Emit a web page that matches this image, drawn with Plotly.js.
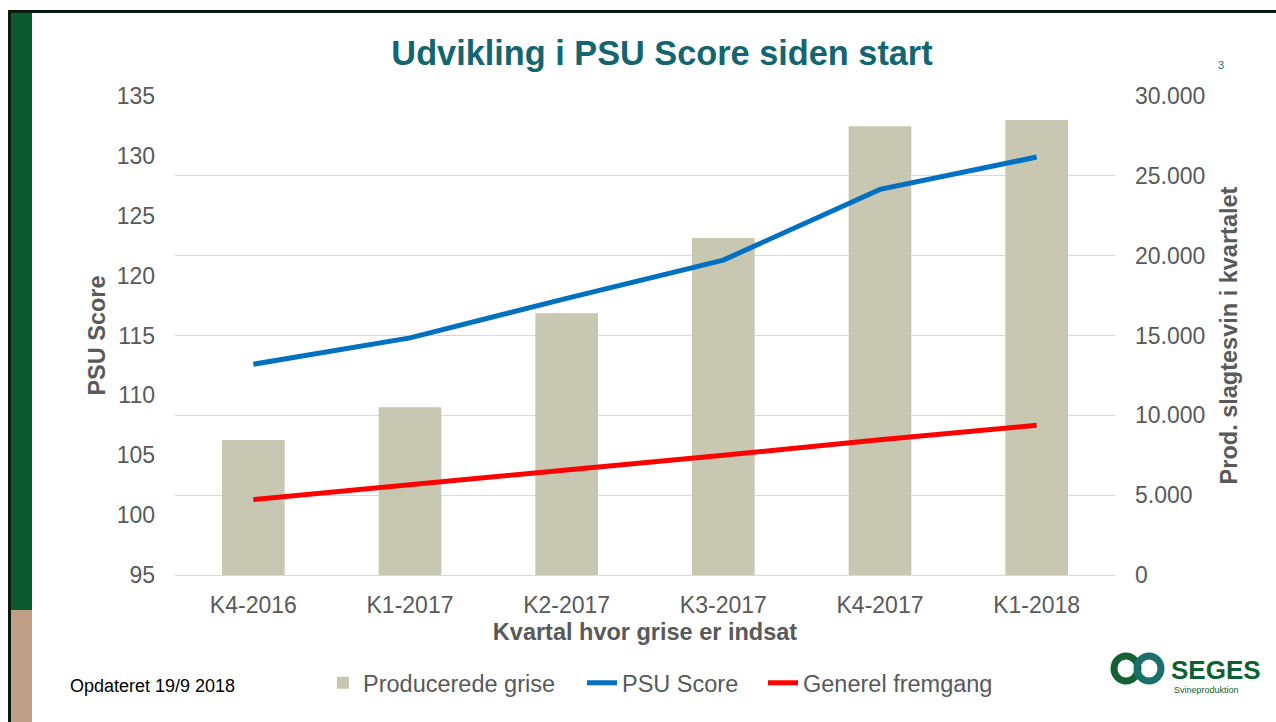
<!DOCTYPE html>
<html>
<head>
<meta charset="utf-8">
<script src="https://cdn.plot.ly/plotly-3.0.1.min.js"></script>
<style>
  html, body { margin: 0; padding: 0; background: #ffffff; }
  #chart { width: 1276px; height: 722px; }
</style>
</head>
<body>
<div id="chart"></div>
<script>
// ---- data ----
const categories = ["K4-2016", "K1-2017", "K2-2017", "K3-2017", "K4-2017", "K1-2018"];
const producedPigs = [8450, 10500, 16400, 21100, 28100, 28500];
const psuScore = [112.6, 114.8, 118.1, 121.3, 127.2, 129.9];
const generalProgress = [101.3, 102.5, 103.8, 105.0, 106.3, 107.5];
const leftTicks = [95, 100, 105, 110, 115, 120, 125, 130, 135];
const rightTicks = [0, 5000, 10000, 15000, 20000, 25000, 30000];
const rightTickText = ["0", "5.000", "10.000", "15.000", "20.000", "25.000", "30.000"];

// ---- layout helpers (pixel -> paper) ----
const W = 1276, H = 722;
const M = { l: 175, r: 161, t: 96, b: 147 };
const PW = W - M.l - M.r, PH = H - M.t - M.b;
const px = x => (x - M.l) / PW;
const py = y => (H - M.b - y) / PH;

const FONT = "Liberation Sans, Arial, sans-serif";
const GREY = "#595959";

// bars on the primary (right-side) axis so the lines (overlay axis) draw on top
const traces = [
  {
    type: "bar", name: "Producerede grise", x: categories, y: producedPigs,
    yaxis: "y", marker: { color: "#c8c7b1" }, width: 0.4, legend: "legend"
  },
  {
    type: "scatter", mode: "lines", name: "PSU Score", x: categories, y: psuScore,
    yaxis: "y2", line: { color: "#0070c0", width: 5 }, legend: "legend2"
  },
  {
    type: "scatter", mode: "lines", name: "Generel fremgang", x: categories, y: generalProgress,
    yaxis: "y2", line: { color: "#ff0000", width: 5 }, legend: "legend3"
  }
];

const shapes = [
  // slide frame
  { type: "rect", xref: "paper", yref: "paper", x0: px(11), x1: px(32), y0: py(13), y1: py(610), fillcolor: "#0b5a2e", line: { width: 0 }, layer: "above" },
  { type: "rect", xref: "paper", yref: "paper", x0: px(11), x1: px(32), y0: py(610), y1: py(722), fillcolor: "#bf9e84", line: { width: 0 }, layer: "above" },
  { type: "rect", xref: "paper", yref: "paper", x0: px(8), x1: px(11), y0: py(10), y1: py(722), fillcolor: "#0a1a10", line: { width: 0 }, layer: "above" },
  { type: "rect", xref: "paper", yref: "paper", x0: px(8), x1: px(1276), y0: py(10), y1: py(13), fillcolor: "#0a1a10", line: { width: 0 }, layer: "above" },
  // logo rings
  { type: "circle", xref: "paper", yref: "paper", x0: px(1114), x1: px(1138), y0: py(656), y1: py(681), fillcolor: "rgba(0,0,0,0)", line: { color: "#146234", width: 7 } },
  { type: "circle", xref: "paper", yref: "paper", x0: px(1137), x1: px(1161), y0: py(656), y1: py(681), fillcolor: "rgba(0,0,0,0)", line: { color: "#1a6f6c", width: 7 } }
];

const annotations = [
  { text: "Opdateret 19/9 2018", xref: "paper", yref: "paper", x: px(68), y: py(686), xanchor: "left", yanchor: "middle", showarrow: false, font: { family: FONT, size: 18, color: "#000000" } },
  { text: "3", xref: "paper", yref: "paper", x: px(1221), y: py(65), xanchor: "center", yanchor: "middle", showarrow: false, font: { family: FONT, size: 11, color: "#1a6f7a" } },
  { text: "<b>SEGES</b>", xref: "paper", yref: "paper", x: px(1169), y: py(670), xanchor: "left", yanchor: "middle", showarrow: false, font: { family: FONT, size: 26, color: "#0d6130" } },
  { text: "Svineproduktion", xref: "paper", yref: "paper", x: px(1172), y: py(690), xanchor: "left", yanchor: "middle", showarrow: false, font: { family: FONT, size: 9, color: "#0d6130" } }
];

const legendBase = {
  orientation: "h", xanchor: "left", y: py(683), yanchor: "middle",
  font: { family: FONT, size: 23.5, color: GREY }, bgcolor: "rgba(0,0,0,0)"
};

const layout = {
  width: W, height: H,
  margin: M,
  paper_bgcolor: "#ffffff", plot_bgcolor: "#ffffff",
  separators: ",.",
  font: { family: FONT, color: GREY },
  title: {
    text: "<b>Udvikling i PSU Score siden start</b>",
    font: { family: FONT, size: 34.3, color: "#13656f" },
    x: 662 / W, xanchor: "center", y: 1 - 53 / H, yanchor: "middle"
  },
  showlegend: true,
  legend: Object.assign({}, legendBase, { x: px(323) }),
  legend2: Object.assign({}, legendBase, { x: px(582) }),
  legend3: Object.assign({}, legendBase, { x: px(763) }),
  bargap: 0.6,
  xaxis: {
    type: "category", tickfont: { family: FONT, size: 23, color: GREY },
    showgrid: false, showline: false, zeroline: false, ticks: "", ticklabelstandoff: 14,
    title: { text: "<b>Kvartal hvor grise er indsat</b>", font: { family: FONT, size: 23.5, color: GREY }, standoff: 6 },
    automargin: false
  },
  yaxis: {
    range: [0, 30000], tickvals: rightTicks, ticktext: rightTickText, side: "right",
    tickfont: { family: FONT, size: 23, color: GREY },
    showgrid: true, gridcolor: "#d9d9d9", gridwidth: 1,
    zeroline: true, zerolinecolor: "#d9d9d9", zerolinewidth: 1, showline: false,
    ticks: "", ticklabelstandoff: 19,
    title: { text: "<b>Prod. slagtesvin i kvartalet</b>", font: { family: FONT, size: 23.5, color: GREY }, standoff: 16 },
    automargin: false
  },
  yaxis2: {
    range: [95, 135], tickvals: leftTicks, overlaying: "y", side: "left",
    tickfont: { family: FONT, size: 23, color: GREY },
    showgrid: false, zeroline: false, showline: false, ticks: "",
    ticklabelstandoff: 19,
    title: { text: "<b>PSU Score</b>", font: { family: FONT, size: 23.5, color: GREY }, standoff: 4 },
    automargin: false
  },
  shapes: shapes,
  annotations: annotations
};

Plotly.newPlot("chart", traces, layout, { displayModeBar: false, staticPlot: true });
</script>
</body>
</html>
